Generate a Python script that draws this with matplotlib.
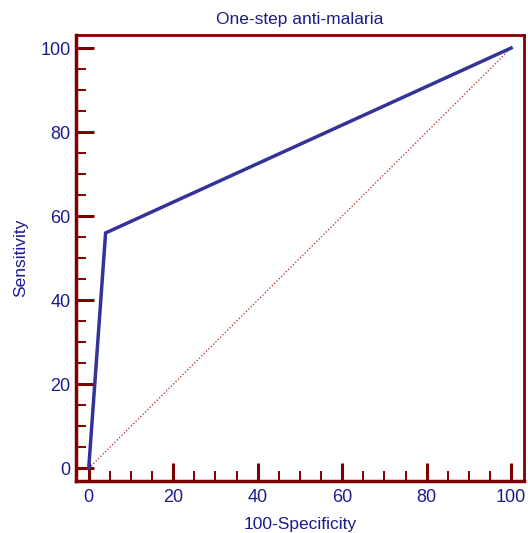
import matplotlib
matplotlib.use("Agg")
import matplotlib.pyplot as plt
from matplotlib.ticker import MultipleLocator

plt.rcParams['font.family'] = ['Liberation Sans', 'DejaVu Sans']

# ROC curve points (100-Specificity, Sensitivity)
fpr = [0, 4, 100]
tpr = [0, 56, 100]
diag = [0, 100]

title = "One-step anti-malaria"
text_color = "#1c1c8c"
frame_color = "#800000"

fig = plt.figure(figsize=(5.28, 5.33), dpi=100)
ax = fig.add_axes([0.144, 0.0976, 0.848, 0.836])

ax.plot(diag, diag, linestyle=":", color="#b02020", linewidth=0.9)
ax.plot(fpr, tpr, color="#333399", linewidth=2.5, solid_joinstyle="miter")

ax.set_xlim(-3, 103)
ax.set_ylim(-3, 103)
ax.xaxis.set_minor_locator(MultipleLocator(5))
ax.yaxis.set_minor_locator(MultipleLocator(5))
ax.set_xticks([0, 20, 40, 60, 80, 100])
ax.set_yticks([0, 20, 40, 60, 80, 100])

for side in ["left", "bottom"]:
    ax.spines[side].set_linewidth(2.5)
for side in ["top", "right"]:
    ax.spines[side].set_linewidth(2.0)
for s in ax.spines.values():
    s.set_color(frame_color)

ax.tick_params(which="major", direction="in", length=13, width=2.2,
               color=frame_color, labelcolor=text_color, labelsize=13, pad=4)
ax.tick_params(axis="x", which="major", pad=6)
ax.tick_params(which="minor", direction="in", length=7, width=1.4,
               color=frame_color)

ax.set_title(title, color=text_color, fontsize=12.5, pad=8)
ax.set_xlabel("100-Specificity", color=text_color, fontsize=12.5, labelpad=7.5)
ax.set_ylabel("Sensitivity", color=text_color, fontsize=12.5, labelpad=9)

fig.savefig("out.png", dpi=100)
